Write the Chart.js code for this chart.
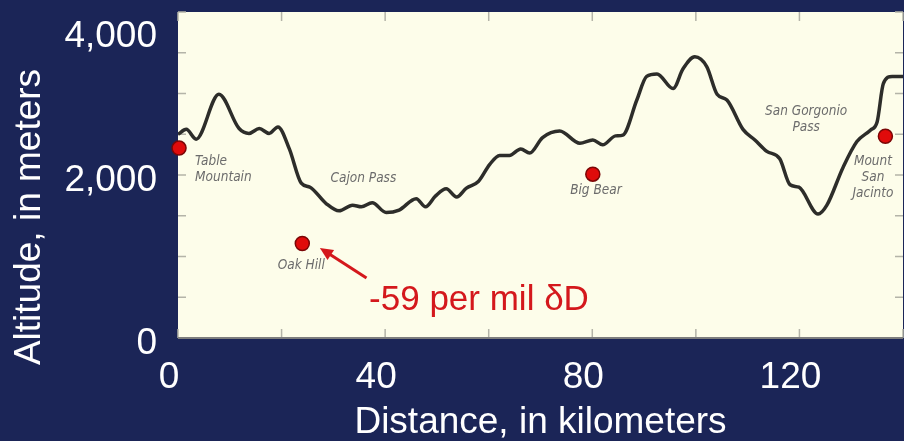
<!DOCTYPE html>
<html>
<head>
<meta charset="utf-8">
<script src="https://cdn.jsdelivr.net/npm/chart.js@4.4.1/dist/chart.umd.min.js"></script>
<style>
  html, body { margin: 0; padding: 0; background: #1b2557; }
  #wrap { width: 904px; height: 441px; }
</style>
</head>
<body>
<div id="wrap"><canvas id="profile" width="904" height="441"></canvas></div>
<script>
// Altitude profile along the transect (km from start -> metres)
const distanceKm = [0, 1.6, 3.5, 7.9, 11.8, 13.7, 15.7, 17.6, 19.3, 21.5,
  23.8, 25.5, 28.6, 31.1, 33.7, 35.4, 37.5, 40.2, 42.7, 46.0,
  47.8, 49.7, 51.8, 53.8, 55.7, 58.0, 60.2, 62.1, 64.0, 66.2,
  67.9, 70.4, 73.7, 77.6, 80.1, 82.0, 84.5, 85.9, 88.6, 90.5,
  92.5, 95.6, 97.5, 99.8, 102.1, 104.1, 106.0, 109.1, 111.4, 113.7,
  116.2, 118.2, 119.9, 123.6, 125.3, 128.4, 131.1, 133.7, 135.0, 136.2,
  137.9, 140];
const altitudeM = [2500, 2560, 2440, 2990, 2570, 2510, 2570, 2510, 2590, 2320,
  1900, 1850, 1650, 1560, 1630, 1610, 1660, 1540, 1570, 1710,
  1610, 1740, 1830, 1730, 1840, 1920, 2130, 2240, 2240, 2320,
  2270, 2460, 2540, 2390, 2430, 2370, 2480, 2490, 2920, 3210,
  3240, 3060, 3300, 3450, 3330, 2990, 2920, 2560, 2430, 2290,
  2200, 1880, 1850, 1520, 1630, 2090, 2410, 2550, 2650, 3120,
  3210, 3210];

// Sample sites (red dots)
const siteNames = ['Table Mountain', 'Oak Hill', 'Big Bear', 'Mount San Jacinto'];
const siteKm = [0.2, 24.0, 80.1, 136.6];
const siteAltM = [2330, 1160, 2010, 2475];

// Tick labels
const xTickLabels = [0, 40, 80, 120];
const yTickLabels = [0, 2000, 4000];

// --- where the small place names sit (data units), kept apart from the data ---
const placeNotes = [
  { lines: ['Table', 'Mountain'], km: 3.3, m: 2170, align: 'left' },
  { lines: ['Cajon Pass'], km: 35.8, m: 1960, align: 'center' },
  { lines: ['Oak Hill'], km: 23.8, m: 890, align: 'center' },
  { lines: ['Big Bear'], km: 80.7, m: 1805, align: 'center' },
  { lines: ['San Gorgonio', 'Pass'], km: 121.3, m: 2780, align: 'center' },
  { lines: ['Mount', 'San', 'Jacinto'], km: 134.2, m: 2170, align: 'center' }
];
const callout = { text: '-59 per mil \u03B4D', km: 36.9, m: 463, fromKm: 36.4, fromM: 735, toKm: 27.4, toM: 1105 };

const slideDecor = {
  id: 'slideDecor',
  beforeDraw(chart) {
    const { ctx, chartArea: a } = chart;
    ctx.save();
    ctx.fillStyle = '#fdfdea';
    ctx.fillRect(a.left, a.top, a.right - a.left, a.bottom - a.top);
    ctx.restore();
  },
  beforeDatasetsDraw(chart) {
    const { ctx, chartArea: a, scales: { x, y } } = chart;
    ctx.save();

    // short inward tick marks on all four sides
    ctx.strokeStyle = '#b4b4a8';
    ctx.lineWidth = 1.5;
    ctx.beginPath();
    y.ticks.forEach(t => {
      const py = y.getPixelForValue(t.value);
      ctx.moveTo(a.left, py); ctx.lineTo(a.left + 8, py);
      ctx.moveTo(a.right - 8, py); ctx.lineTo(a.right, py);
    });
    x.ticks.forEach(t => {
      const px = x.getPixelForValue(t.value);
      ctx.moveTo(px, a.top); ctx.lineTo(px, a.top + 9);
      ctx.moveTo(px, a.bottom); ctx.lineTo(px, a.bottom - 9);
    });
    ctx.stroke();

    // bottom frame line
    ctx.strokeStyle = '#7d7d7d';
    ctx.lineWidth = 2;
    ctx.beginPath();
    ctx.moveTo(a.left, a.bottom); ctx.lineTo(a.right, a.bottom);
    ctx.stroke();

    // place names
    ctx.fillStyle = '#6c6c6c';
    ctx.font = 'italic 13.5px "Liberation Sans Narrow", "DejaVu Sans Condensed", sans-serif';
    ctx.textBaseline = 'middle';
    placeNotes.forEach(n => {
      ctx.textAlign = n.align;
      const px = x.getPixelForValue(n.km);
      const py = y.getPixelForValue(n.m);
      n.lines.forEach((line, i) => ctx.fillText(line, px, py + i * 16));
    });

    // red callout with arrow to Oak Hill
    const x0 = x.getPixelForValue(callout.fromKm), y0 = y.getPixelForValue(callout.fromM);
    const x1 = x.getPixelForValue(callout.toKm), y1 = y.getPixelForValue(callout.toM);
    const ang = Math.atan2(y1 - y0, x1 - x0);
    ctx.strokeStyle = '#d4181c';
    ctx.fillStyle = '#d4181c';
    ctx.lineWidth = 3;
    ctx.beginPath();
    ctx.moveTo(x0, y0);
    ctx.lineTo(x1 - 8 * Math.cos(ang), y1 - 8 * Math.sin(ang));
    ctx.stroke();
    ctx.beginPath();
    ctx.moveTo(x1, y1);
    ctx.lineTo(x1 - 13 * Math.cos(ang) + 6 * Math.sin(ang), y1 - 13 * Math.sin(ang) - 6 * Math.cos(ang));
    ctx.lineTo(x1 - 13 * Math.cos(ang) - 6 * Math.sin(ang), y1 - 13 * Math.sin(ang) + 6 * Math.cos(ang));
    ctx.closePath();
    ctx.fill();
    ctx.font = '35px "Liberation Sans", Arial, sans-serif';
    ctx.textAlign = 'left';
    ctx.fillText(callout.text, x.getPixelForValue(callout.km), y.getPixelForValue(callout.m));

    ctx.restore();
  },
  afterDraw(chart) {
    const { ctx, chartArea: a, scales: { y } } = chart;
    ctx.save();
    ctx.fillStyle = '#ffffff';
    ctx.font = '37px "Liberation Sans", Arial, sans-serif';
    ctx.textAlign = 'right';
    ctx.textBaseline = 'middle';
    // y labels sit a little below their ticks on the slide
    yTickLabels.forEach(v => {
      const py = Math.max(y.getPixelForValue(v) + 6, a.top + 25);
      ctx.fillText(v.toLocaleString('en-US'), a.left - 21, py);
    });
    // y axis title
    ctx.translate(30, 217);
    ctx.rotate(-Math.PI / 2);
    ctx.textAlign = 'center';
    ctx.fillText('Altitude, in meters', 0, 0);
    ctx.restore();
  }
};

new Chart(document.getElementById('profile'), {
  data: {
    datasets: [
      {
        type: 'line',
        label: 'Altitude',
        data: distanceKm.map((d, i) => ({ x: d, y: altitudeM[i] })),
        borderColor: '#2d2d2a',
        borderWidth: 3.5,
        pointRadius: 0,
        cubicInterpolationMode: 'monotone',
        fill: false
      },
      {
        type: 'scatter',
        label: 'Sample sites',
        data: siteKm.map((d, i) => ({ x: d, y: siteAltM[i], name: siteNames[i] })),
        backgroundColor: '#e00b0b',
        borderColor: '#7a0606',
        borderWidth: 1.5,
        pointRadius: 7,
        clip: false
      }
    ]
  },
  options: {
    responsive: false,
    animation: false,
    layout: { autoPadding: false, padding: { top: 12, right: 1, left: 0, bottom: 0 } },
    plugins: { legend: { display: false }, tooltip: { enabled: false } },
    scales: {
      x: {
        type: 'linear',
        min: 0,
        max: 140,
        grid: { display: false, drawTicks: false },
        border: { display: false },
        ticks: {
          stepSize: 20,
          autoSkip: false,
          maxRotation: 0,
          color: '#ffffff',
          padding: 18,
          labelOffset: -9,
          font: { family: '"Liberation Sans", Arial, sans-serif', size: 37 },
          callback: v => xTickLabels.includes(v) ? String(v) : ''
        },
        title: {
          display: true,
          text: 'Distance, in kilometers',
          color: '#ffffff',
          padding: { top: 0, bottom: 0 },
          font: { family: '"Liberation Sans", Arial, sans-serif', size: 37, lineHeight: 1 }
        },
        afterFit: scale => {
          scale.height = 103;
          scale.paddingLeft = 0;
          scale.paddingRight = 0;
        }
      },
      y: {
        min: 0,
        max: 4000,
        grid: { display: false, drawTicks: false },
        border: { display: false },
        ticks: { stepSize: 500, display: false },
        afterFit: scale => { scale.width = 178; }
      }
    }
  },
  plugins: [slideDecor]
});
</script>
</body>
</html>
